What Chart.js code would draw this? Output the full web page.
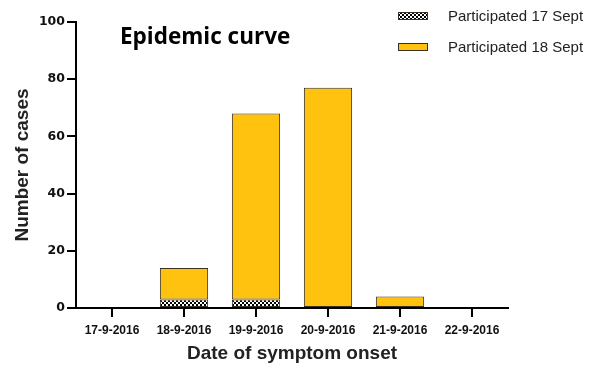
<!DOCTYPE html>
<html><head><meta charset="utf-8">
<script src="https://cdn.jsdelivr.net/npm/chart.js@4.4.0/dist/chart.umd.min.js"></script>
<style>html,body{margin:0;padding:0;background:#fff}#wrap{width:603px;height:365px;position:relative}</style>
</head><body><div id="wrap"><canvas id="c" width="603" height="365"></canvas></div>
<script>
const categories = ['17-9-2016','18-9-2016','19-9-2016','20-9-2016','21-9-2016','22-9-2016'];
const participated17 = [0, 3, 3, 0, 0, 0];
const participated18 = [0, 11, 65, 77, 4, 0];
const yTicks = [0, 20, 40, 60, 80, 100];
const seriesNames = ['Participated 17 Sept', 'Participated 18 Sept'];
const chartTitle = 'Epidemic curve';

function checker() {
  const p = document.createElement('canvas');
  p.width = 4; p.height = 4;
  const g = p.getContext('2d');
  g.fillStyle = '#fff'; g.fillRect(0,0,4,4);
  g.fillStyle = '#000'; g.fillRect(0,0,2,2); g.fillRect(2,2,2,2);
  return document.getElementById('c').getContext('2d').createPattern(p, 'repeat');
}
const pat = checker();
const YELLOW = '#FFC20E';
const BORDER = '#3a3020';
const FONT = '"Liberation Sans", Arial, sans-serif';

const overlay = {
  id: 'overlay',
  afterDraw(chart) {
    const ctx = chart.ctx;
    ctx.save();
    ctx.fillStyle = '#000';
    ctx.font = 'bold 22.5px "Open Sans", "Liberation Sans", sans-serif';
    ctx.textBaseline = 'middle';
    ctx.textAlign = 'left';
    ctx.fillText(chartTitle, 120, 38);
    const items = [{fill: pat}, {fill: YELLOW}];
    items.forEach((it, i) => {
      const y = 16 + i * 31;
      ctx.fillStyle = it.fill;
      ctx.fillRect(398, y - 4, 30, 8);
      ctx.strokeStyle = BORDER; ctx.lineWidth = 1;
      ctx.strokeRect(398.5, y - 3.5, 29, 7);
      ctx.fillStyle = '#222';
      ctx.font = '15px ' + FONT;
      ctx.textAlign = 'left';
      ctx.fillText(seriesNames[i], 448, y + 1);
    });
    ctx.restore();
  }
};

new Chart(document.getElementById('c'), {
  type: 'bar',
  data: {
    labels: categories,
    datasets: [
      {label: seriesNames[0], data: participated17.map(v => v || null), backgroundColor: pat, borderColor: BORDER, borderWidth: 1, borderSkipped: false, categoryPercentage: 0.67, barPercentage: 1},
      {label: seriesNames[1], data: participated18.map(v => v || null), backgroundColor: YELLOW, borderColor: BORDER, borderWidth: 1, borderSkipped: false, categoryPercentage: 0.67, barPercentage: 1}
    ]
  },
  options: {
    responsive: false,
    animation: false,
    devicePixelRatio: 1,
    layout: {padding: {top: 22, right: 95, left: 11, bottom: 0}},
    plugins: {legend: {display: false}, tooltip: {enabled: false}},
    scales: {
      x: {
        stacked: true,
        offset: true,
        grid: {offset: false, drawOnChartArea: false, color: '#000', lineWidth: 2, tickLength: 9},
        border: {color: '#000', width: 2},
        ticks: {color: '#111', font: {family: FONT, weight: 'bold', size: 12}, padding: 6, maxRotation: 0, autoSkip: false},
        title: {display: true, text: 'Date of symptom onset', color: '#222', font: {family: FONT, weight: 'bold', size: 19}, padding: {top: 3, bottom: 0}},
        afterFit(s) { s.height = 57; }
      },
      y: {
        stacked: true,
        min: 0, max: 100,
        afterBuildTicks(s) { s.ticks = yTicks.map(v => ({value: v})); },
        grid: {drawOnChartArea: false, color: '#000', lineWidth: 2, tickLength: 9},
        border: {color: '#000', width: 2},
        ticks: {color: '#111', font: {family: '"DejaVu Sans", sans-serif', weight: 'bold', size: 12.5}, padding: 2},
        title: {display: true, text: 'Number of cases', color: '#222', font: {family: FONT, weight: 'bold', size: 19}, padding: {top: 0, bottom: 2}},
        afterFit(s) { s.width = 65; }
      }
    }
  },
  plugins: [overlay]
});
</script></body></html>
